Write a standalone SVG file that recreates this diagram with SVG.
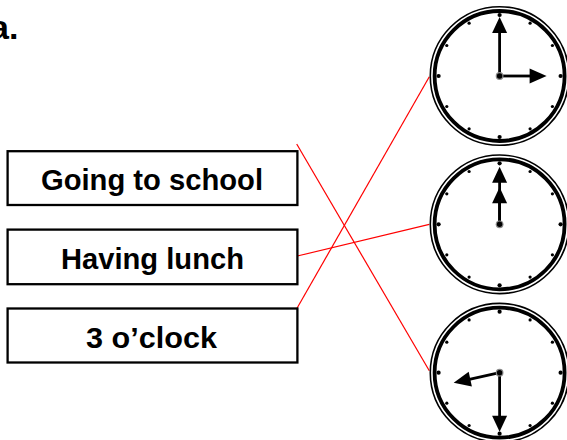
<svg xmlns="http://www.w3.org/2000/svg" xmlns:xlink="http://www.w3.org/1999/xlink" width="567" height="440" viewBox="0 0 567 440">
<style>
.box{fill:#fff;stroke:#000;stroke-width:2.3}
.lbl{font-family:"Liberation Sans",Arial,sans-serif;font-weight:bold;font-size:29px;fill:#000}
.conn{stroke:#ff0000;stroke-width:1.2;fill:none}
.ring1{fill:none;stroke:#000;stroke-width:1.6}
.ring2{fill:#fff;stroke:#000;stroke-width:3.8}
.hand{stroke:#000;stroke-width:2.8;fill:none}
</style>
<defs>
<g id="face">
<circle class="ring1" r="69.3"/>
<circle class="ring2" r="65"/>
<circle cx="0" cy="-61" r="2.1"/>
<circle cx="61" cy="0" r="2.1"/>
<circle cx="0" cy="61" r="2.1"/>
<circle cx="-61" cy="0" r="2.1"/>
<circle cx="30.5" cy="-52.8" r="1.6"/>
<circle cx="52.8" cy="-30.5" r="1.6"/>
<circle cx="52.8" cy="30.5" r="1.6"/>
<circle cx="30.5" cy="52.8" r="1.6"/>
<circle cx="-30.5" cy="52.8" r="1.6"/>
<circle cx="-52.8" cy="30.5" r="1.6"/>
<circle cx="-52.8" cy="-30.5" r="1.6"/>
<circle cx="-30.5" cy="-52.8" r="1.6"/>
</g>
<g id="minute">
<line class="hand" x1="0" y1="0" x2="0" y2="-44"/>
<polygon points="0,-59 -7.5,-43 7.5,-43"/>
</g>
<g id="hour">
<line class="hand" x1="0" y1="0" x2="0" y2="-31"/>
<polygon points="0,-47 -7.5,-30 7.5,-30"/>
</g>
<g id="hour2">
<line class="hand" x1="0" y1="0" x2="0" y2="-22"/>
<polygon points="0,-37 -7.5,-21 7.5,-21"/>
</g>
<g id="hub">
<circle r="3.9" fill="#888"/>
<circle r="2.7" fill="#000"/>
</g>
</defs>
<text x="-10" y="39" font-family="Liberation Sans,Arial,sans-serif" font-weight="bold" font-size="34">a.</text>
<g id="connectors">
<line class="conn" x1="296.7" y1="144" x2="429.3" y2="370.7"/>
<line class="conn" x1="297.3" y1="256" x2="429.3" y2="224.3"/>
<line class="conn" x1="296" y1="310" x2="429.3" y2="76.7"/>
</g>
<g id="box1">
<rect class="box" x="7.6" y="151.2" width="289.8" height="53.8"/>
<text class="lbl" x="41" y="189.5" textLength="222" lengthAdjust="spacingAndGlyphs">Going to school</text>
</g>
<g id="box2">
<rect class="box" x="7.6" y="229.6" width="289.8" height="54.6"/>
<text class="lbl" x="61" y="269.3" textLength="183" lengthAdjust="spacingAndGlyphs">Having lunch</text>
</g>
<g id="box3">
<rect class="box" x="7.6" y="308.5" width="289.8" height="54"/>
<text class="lbl" x="86" y="348" textLength="131" lengthAdjust="spacingAndGlyphs">3 o’clock</text>
</g>
<g id="clock1" transform="translate(499.6,76)">
<use xlink:href="#face"/>
<use xlink:href="#minute"/>
<use xlink:href="#hour" transform="rotate(90)"/>
<use xlink:href="#hub"/>
</g>
<g id="clock2" transform="translate(499.6,224.3)">
<use xlink:href="#face"/>
<use xlink:href="#minute" transform="translate(0,1.5)"/>
<use xlink:href="#hour2"/>
<use xlink:href="#hub"/>
</g>
<g id="clock3" transform="translate(499.6,372.7)">
<use xlink:href="#face"/>
<use xlink:href="#minute" transform="rotate(180)"/>
<use xlink:href="#hour" transform="rotate(257.7)"/>
<use xlink:href="#hub"/>
</g>
</svg>
